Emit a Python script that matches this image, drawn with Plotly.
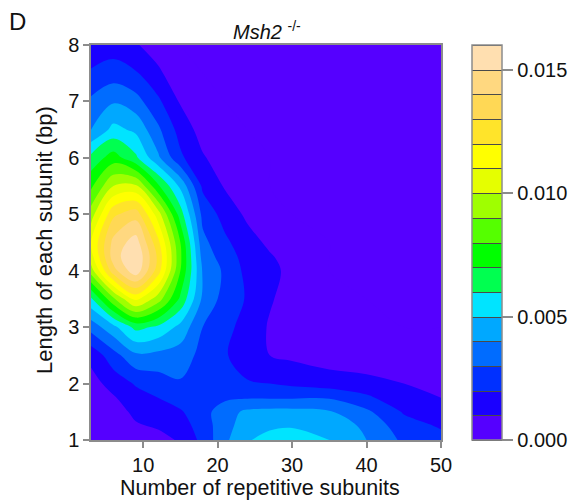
import plotly.graph_objects as go

x_repeats = [3, 6, 9, 12, 15, 18, 21, 24, 27, 30, 35, 40, 45, 50]
y_length = [1, 1.25, 1.5, 1.75, 2, 2.5, 3, 3.5, 4, 4.25, 4.5, 5, 5.5, 6, 6.5, 7, 7.5, 8]

# density per column (x_repeats), listed in y_length order
col_3  = [.0000, .0001, .0002, .0004, .0006, .0013, .0034, .0058, .0095, .0106, .0110, .0095, .0078, .0063, .0040, .0032, .0021, .0015]
col_6  = [.0003, .0004, .0006, .0009, .0014, .0026, .0047, .0088, .0136, .0145, .0143, .0128, .0100, .0075, .0053, .0039, .0025, .0015]
col_9  = [.0006, .0009, .0012, .0016, .0021, .0038, .0063, .0113, .0157, .0160, .0155, .0136, .0102, .0062, .0048, .0034, .0021, .0011]
col_12 = [.0007, .0011, .0016, .0020, .0025, .0037, .0058, .0095, .0125, .0128, .0123, .0105, .0072, .0042, .0032, .0022, .0012, .0005]
col_15 = [.0011, .0015, .0019, .0024, .0029, .0035, .0047, .0068, .0080, .0082, .0080, .0065, .0048, .0022, .0016, .0009, .0003, .0000]
col_18 = [.0023, .0025, .0026, .0028, .0028, .0027, .0030, .0038, .0039, .0036, .0033, .0027, .0018, .0011, .0006, .0002, .0000, .0000]
col_21 = [.0038, .0036, .0036, .0028, .0026, .0021, .0023, .0026, .0028, .0025, .0022, .0016, .0009, .0005, .0001, .0000, .0000, .0000]
col_24 = [.0049, .0046, .0042, .0029, .0021, .0014, .0016, .0019, .0017, .0016, .0014, .0008, .0004, .0001, .0000, .0000, .0000, .0000]
col_27 = [.0054, .0048, .0043, .0029, .0020, .0010, .0009, .0011, .0012, .0011, .0008, .0003, .0000, .0000, .0000, .0000, .0000, .0000]
col_30 = [.0056, .0049, .0043, .0029, .0018, .0008, .0005, .0006, .0008, .0006, .0003, .0000, .0000, .0000, .0000, .0000, .0000, .0000]
col_35 = [.0050, .0046, .0041, .0029, .0015, .0005, .0002, .0001, .0000, .0000, .0000, .0000, .0000, .0000, .0000, .0000, .0000, .0000]
col_40 = [.0040, .0038, .0032, .0022, .0013, .0004, .0001, .0000, .0000, .0000, .0000, .0000, .0000, .0000, .0000, .0000, .0000, .0000]
col_45 = [.0028, .0024, .0019, .0013, .0010, .0002, .0000, .0000, .0000, .0000, .0000, .0000, .0000, .0000, .0000, .0000, .0000, .0000]
col_50 = [.0023, .0019, .0015, .0010, .0007, .0001, .0000, .0000, .0000, .0000, .0000, .0000, .0000, .0000, .0000, .0000, .0000, .0000]
columns = [col_3, col_6, col_9, col_12, col_15, col_18, col_21, col_24, col_27, col_30, col_35, col_40, col_45, col_50]
z = [list(r) for r in zip(*columns)]

band_colors = ["#5500ff", "#1a00ff", "#0030ff", "#006cff", "#00a8ff", "#00e4ff",
               "#00ff50", "#00ff00", "#55ff00", "#9fff00", "#e5ff00", "#ffff00",
               "#ffe42a", "#ffd855", "#ffd880", "#ffdfb0"]
colorbar_ticks = [0.000, 0.005, 0.010, 0.015]
x_ticks = [10, 20, 30, 40, 50]
y_ticks = [1, 2, 3, 4, 5, 6, 7, 8]

n = len(band_colors)
scale = []
for i, c in enumerate(band_colors):
    scale += [[i / n, c], [(i + 1) / n, c]]

FONT = "Liberation Sans, Arial, sans-serif"
INK = "#111111"
GRAY = "#8c8c8c"
W, H = 571, 502
L, R, T, B = 91, 441, 45, 440
contour_levels = dict(start=0, end=0.016, size=0.001)

# Lower trace: supplies the colour bar with its dark band separators.
bar_trace = go.Contour(
    x=x_repeats, y=y_length, z=z,
    colorscale=scale, zmin=0, zmax=0.016, autocontour=False,
    contours=dict(coloring="fill", showlines=True, **contour_levels),
    line=dict(width=1, color="#4a4a4a"), hoverinfo="skip",
    colorbar=dict(
        thickness=30, thicknessmode="pixels",
        len=1.0, lenmode="fraction", x=(472 - L) / (R - L), xanchor="left",
        y=0.5, yanchor="middle", ypad=0, xpad=0,
        outlinecolor=GRAY, outlinewidth=1.5,
        tickmode="array", tickvals=colorbar_ticks,
        ticktext=["%.3f" % t for t in colorbar_ticks],
        ticks="outside", ticklen=11, tickcolor=GRAY, tickwidth=1.5,
        tickfont=dict(family=FONT, size=20, color=INK),
    ),
)
# Upper trace: the map itself, with no contour lines.
map_trace = go.Contour(
    x=x_repeats, y=y_length, z=z,
    colorscale=scale, zmin=0, zmax=0.016, autocontour=False, showscale=False,
    contours=dict(coloring="fill", showlines=False, **contour_levels),
    line=dict(width=0), hoverinfo="skip",
)


def label(text, px, py, size, angle=0, anchor="center"):
    return dict(text=text, xref="x domain", yref="y domain", x=(px - L) / (R - L), y=(B - py) / (B - T),
                xanchor=anchor, yanchor="middle", showarrow=False, textangle=angle,
                font=dict(family=FONT, size=size, color=INK))


fig = go.Figure([bar_trace, map_trace])
fig.update_layout(
    width=W, height=H, margin=dict(l=L, r=W - R, t=T, b=H - B, pad=0, autoexpand=False),
    paper_bgcolor="white", plot_bgcolor="#5500ff",
    font=dict(family=FONT, color=INK), showlegend=False,
    annotations=[
        label("D", 7, 22, 24, anchor="left"),
        label("<i>Msh2</i> <sup>-/-</sup>", 267, 30, 20),
        label("Number of repetitive subunits", 260, 488, 21.5),
        label("Length of each subunit (bp)", 44, 240, 22, angle=-90),
    ],
)
fig.update_xaxes(range=[3, 50], tickmode="array", tickvals=x_ticks, ticks="outside", ticklen=6, tickwidth=1.5,
                 tickcolor=GRAY, linecolor=GRAY, linewidth=1.5, showline=True, mirror=True, showgrid=False, zeroline=False,
                 tickfont=dict(family=FONT, size=20))
fig.update_yaxes(range=[1, 8], tickmode="array", tickvals=y_ticks, ticks="outside", ticklen=6, tickwidth=1.5,
                 tickcolor=GRAY, linecolor=GRAY, linewidth=1.5, showline=True, mirror=True, showgrid=False, zeroline=False,
                 tickfont=dict(family=FONT, size=20))
fig.write_html("out.html", config=dict(displayModeBar=False), post_script="document.body.style.margin='0';")
